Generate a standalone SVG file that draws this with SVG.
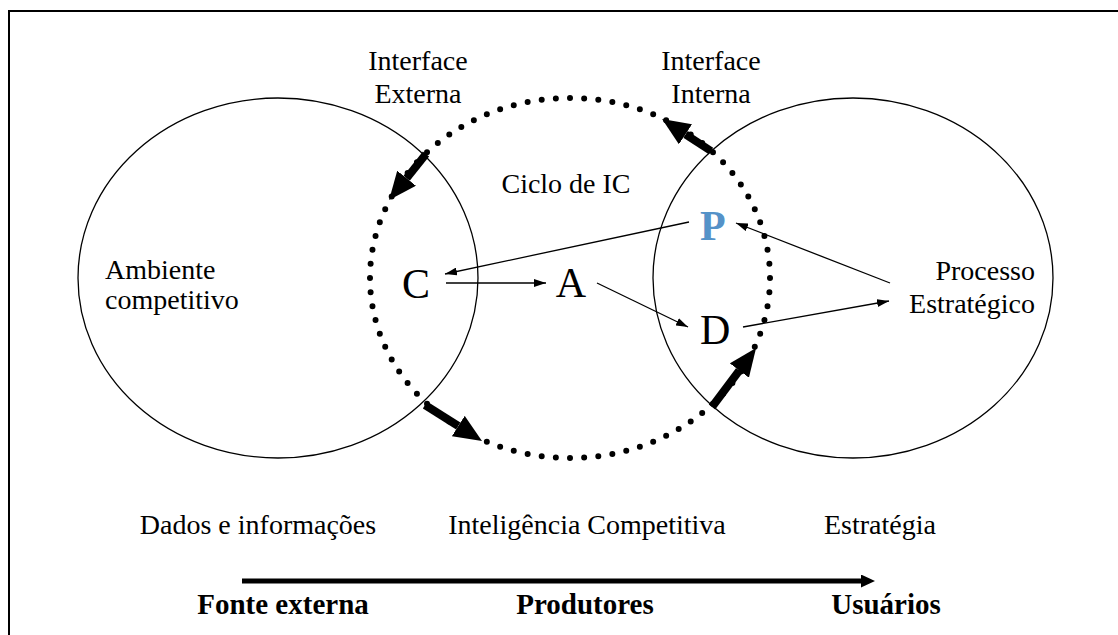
<svg xmlns="http://www.w3.org/2000/svg" width="1118" height="635" viewBox="0 0 1118 635">
<style>
  .t { font-family: "Liberation Serif", "Times New Roman", serif; font-size: 28px; fill: #000; }
  .big { font-family: "Liberation Serif", "Times New Roman", serif; font-size: 42px; fill: #000; }
  .b { font-family: "Liberation Serif", "Times New Roman", serif; font-size: 29px; font-weight: bold; fill: #000; }
  .mid { text-anchor: middle; }
  .end { text-anchor: end; }
  .circ { fill: none; stroke: #000; stroke-width: 1.3; }
  .thin { fill: none; stroke: #000; stroke-width: 1.3; marker-end: url(#ah); }
  .thick { fill: none; stroke: #000; stroke-width: 8; marker-end: url(#bh); }
</style>
<defs>
  <marker id="ah" viewBox="0 0 12 8" refX="12" refY="4" markerWidth="12" markerHeight="8" markerUnits="userSpaceOnUse" orient="auto">
    <path d="M0,0 L12,4 L0,8 z" fill="#000"/>
  </marker>
  <marker id="bh" viewBox="0 0 28 24" refX="0" refY="12" markerWidth="28" markerHeight="24" markerUnits="userSpaceOnUse" orient="auto">
    <path d="M0,0 L28,12 L0,24 z" fill="#000"/>
  </marker>
  <marker id="fh" viewBox="0 0 14 13" refX="0" refY="6.5" markerWidth="14" markerHeight="13" markerUnits="userSpaceOnUse" orient="auto">
    <path d="M0,0 L14,6.5 L0,13 z" fill="#000"/>
  </marker>
</defs>
<rect x="9" y="11" width="1200" height="700" fill="#fff" stroke="#000" stroke-width="2"/>

<g id="ambiente">
  <ellipse class="circ" cx="278" cy="278" rx="200" ry="180"/>
  <text class="t" x="105" y="279">Ambiente</text>
  <text class="t" x="105" y="309">competitivo</text>
</g>
<g id="processo">
  <ellipse class="circ" cx="853" cy="278" rx="200" ry="180"/>
  <text class="t end" x="1035" y="280">Processo</text>
  <text class="t end" x="1035" y="313">Estratégico</text>
</g>
<g id="ciclo">
  <path d="M570,98 A200,180 0 1,1 570,458 A200,180 0 1,1 570,98 Z" fill="none" stroke="#000" stroke-width="6" stroke-linecap="round" pathLength="84" stroke-dasharray="0 1"/>
  <text class="t mid" x="566" y="193">Ciclo de IC</text>
</g>
<g id="interface-externa">
  <text class="t mid" x="418" y="70">Interface</text>
  <text class="t mid" x="418" y="103">Externa</text>
</g>
<g id="interface-interna">
  <text class="t mid" x="711" y="70">Interface</text>
  <text class="t mid" x="711" y="103">Interna</text>
</g>
<g id="node-c"><text class="big" x="402" y="298">C</text></g>
<g id="node-a"><text class="big mid" x="571" y="297">A</text></g>
<g id="node-d"><text class="big" x="700" y="344">D</text></g>
<g id="node-p"><text class="big" x="700" y="240" style="font-weight:bold;fill:#5592c8">P</text></g>

<g id="bottom-labels">
  <text class="t mid" x="258" y="534">Dados e informações</text>
  <text class="t mid" x="587" y="534">Inteligência Competitiva</text>
  <text class="t mid" x="880" y="534">Estratégia</text>
  <text class="b mid" x="283" y="614">Fonte externa</text>
  <text class="b mid" x="585" y="614">Produtores</text>
  <text class="b mid" x="886" y="614">Usuários</text>
</g>

<g id="connectors">
  <line class="thin" x1="689" y1="222" x2="445" y2="274"/>
  <line class="thin" x1="446" y1="283" x2="546" y2="283"/>
  <line class="thin" x1="597" y1="283" x2="688" y2="327"/>
  <line class="thin" x1="890" y1="283" x2="736" y2="223"/>
  <line class="thin" x1="743" y1="327" x2="889" y2="301"/>
  <line class="thick" x1="426" y1="154" x2="406.6" y2="178.2"/>
  <line class="thick" x1="711" y1="151" x2="685.5" y2="134.3"/>
  <line class="thick" x1="425" y1="405" x2="458.3" y2="426"/>
  <line class="thick" x1="712" y1="407" x2="739.3" y2="370.5"/>
  <line x1="242" y1="581" x2="861" y2="581" stroke="#000" stroke-width="5" marker-end="url(#fh)"/>
</g>
</svg>
